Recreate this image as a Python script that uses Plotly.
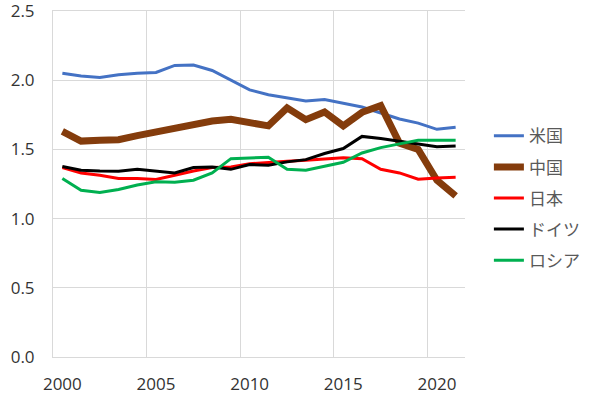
import plotly.graph_objects as go

years = list(range(2000, 2022))
us = [2.05, 2.03, 2.02, 2.04, 2.05, 2.056, 2.107, 2.11, 2.07, 2.00, 1.93,
      1.895, 1.87, 1.85, 1.86, 1.835, 1.806, 1.763, 1.72, 1.69, 1.645, 1.66]
china = [1.63, 1.56, 1.566, 1.57, 1.60, 1.626, 1.643, 1.674, 1.705, 1.717, 1.69,
         1.67, 1.80, 1.715, 1.77, 1.67, 1.768, 1.816, 1.546, 1.50, 1.277, 1.164]
japan = [1.369, 1.33, 1.313, 1.29, 1.29, 1.282, 1.313, 1.344, 1.369, 1.373, 1.397,
         1.407, 1.414, 1.421, 1.43, 1.44, 1.433, 1.356, 1.33, 1.284, 1.294, 1.299]
germany = [1.376, 1.35, 1.344, 1.342, 1.356, 1.342, 1.33, 1.369, 1.373, 1.356, 1.39,
           1.385, 1.41, 1.426, 1.47, 1.506, 1.594, 1.578, 1.56, 1.54, 1.52, 1.525]
russia = [1.29, 1.205, 1.188, 1.21, 1.243, 1.267, 1.263, 1.277, 1.33, 1.433, 1.438,
          1.443, 1.356, 1.35, 1.378, 1.407, 1.474, 1.513, 1.54, 1.566, 1.566, 1.566]

names = ["米国", "中国", "日本", "ドイツ", "ロシア"]
series = [us, china, japan, germany, russia]
colors = ["#4472C4", "#843C0C", "#FF0000", "#000000", "#00B050"]
widths = [3, 7, 3, 3, 3]

x_ticks = [2000, 2005, 2010, 2015, 2020]
y_ticks = [0.0, 0.5, 1.0, 1.5, 2.0, 2.5]

fig = go.Figure()
for i, (n, s, c, w) in enumerate(zip(names, series, colors, widths)):
    fig.add_trace(go.Scatter(x=years, y=s, name=n, mode="lines",
                             line=dict(color=c, width=w), legendgroup=str(i)))

font_family = "Open Sans, Noto Sans CJK JP, sans-serif"
fig.update_layout(
    width=589, height=396,
    margin=dict(l=53, r=124, t=11, b=39, autoexpand=False),
    plot_bgcolor="white", paper_bgcolor="white",
    font=dict(family=font_family, size=17, color="#333333"),
    showlegend=True,
    legend=dict(x=1.058, y=0.69, xanchor="left", yanchor="top",
                font=dict(size=17, color="#595959"),
                itemwidth=30, tracegroupgap=6, bgcolor="rgba(0,0,0,0)"),
)
fig.update_xaxes(
    range=[1999.5, 2021.5], tickvals=x_ticks, ticktext=[str(v) for v in x_ticks],
    showgrid=False, zeroline=False, automargin=False,
    minor=dict(tick0=1999.5, dtick=5, showgrid=True, gridcolor="#D9D9D9", gridwidth=1),
    showline=True, mirror=True, linecolor="#D9D9D9", linewidth=1,
    ticks="outside", ticklen=12, tickcolor="rgba(0,0,0,0)",
)
fig.update_yaxes(
    range=[0, 2.5], tickvals=y_ticks, ticktext=[f"{v:.1f}" for v in y_ticks],
    showgrid=True, gridcolor="#D9D9D9", gridwidth=1, zeroline=False, automargin=False,
    showline=True, linecolor="#D9D9D9", linewidth=1, ticklabeloverflow="allow",
    ticks="outside", ticklen=14, tickcolor="rgba(0,0,0,0)",
)
fig.write_html("out.html", config={"displayModeBar": False},
               post_script="document.body.style.margin='0';document.body.style.overflow='hidden';")
